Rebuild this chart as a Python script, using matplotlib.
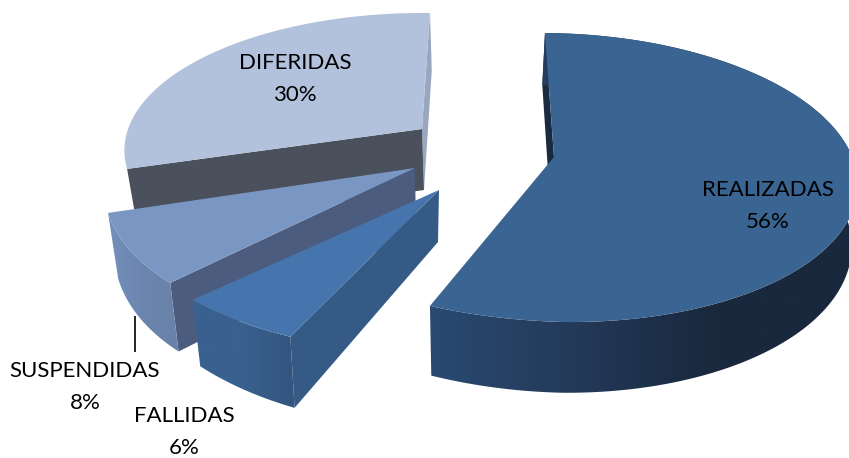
import numpy as np
import matplotlib
matplotlib.use("Agg")
import matplotlib.pyplot as plt
from matplotlib.colors import to_rgb
from matplotlib.patches import Polygon

plt.rcParams['font.family'] = ['Lato', 'DejaVu Sans']

categories = ["REALIZADAS", "FALLIDAS", "SUSPENDIDAS", "DIFERIDAS"]
values = [56, 6, 8, 30]

# layout of each exploded slice, in pixels of the 849x458 picture
# apex x/y, rx, ry, shear s/t, perspective k, wall shift, wall scale
# rx2/t2/sx2 replace rx/t/scale x on the right half where the ellipse is not symmetric
layout = {
    "REALIZADAS": dict(c=(554, 157), rx=318.5, ry=141.6, s=-10.3, t=6.5, k=0.142, rx2=299, t2=2, sx2=0.99,
                       shift=(-3, 60), scale=(0.965, 1.065)),
    "FALLIDAS": dict(c=(439, 190), rx=328, ry=163, s=30, t=13, k=0, shift=(-1, 52), scale=(0.965, 1.13)),
    "SUSPENDIDAS": dict(c=(415, 168), rx=307.5, ry=163, s=47, t=5.7, k=0, shift=(1, 64), scale=(0.97, 1.04)),
    "DIFERIDAS": dict(c=(422, 129), rx=292.7, ry=133.4, s=9.2, t=3.3, k=0.15, shift=(2, 61), scale=(0.97, 1.03)),
}
colors = {
    "REALIZADAS": dict(top="#3a6491", inner="#1a2b40", wall=("#2a4a70", "#233a5a", "#19283c", "#19283c")),
    "FALLIDAS": dict(top="#4675ad", inner="#345a85", wall=("#39618f", "#39608e", "#33557f")),
    "SUSPENDIDAS": dict(top="#7a97c4", inner="#4c5c7e", wall=("#7390bc", "#6b85ae", "#6a82a8")),
    "DIFERIDAS": dict(top="#b3c2dc", inner="#4a505c", wall=None),
}
label_pos = {
    "REALIZADAS": (768, 206),
    "FALLIDAS": (184, 432),
    "SUSPENDIDAS": (85, 387),
    "DIFERIDAS": (295, 79),
}


def project(theta, p):
    u, v = np.sin(theta), np.cos(theta)
    f = 1 / (1 + p["k"] * v)
    rx = np.where(u > 0, p.get("rx2", p["rx"]), p["rx"])
    t = np.where(u > 0, p.get("t2", p["t"]), p["t"])
    x = p["c"][0] + (rx * u + p["s"] * v) * f
    y = p["c"][1] + (-p["ry"] * v + t * u) * f
    return x, y


def lower(x, y, p):
    cx, cy = p["c"]
    sx = np.where(x > cx, p.get("sx2", p["scale"][0]), p["scale"][0])
    return (cx + p["shift"][0] + (x - cx) * sx,
            cy + p["shift"][1] + (y - cy) * p["scale"][1])


def gradient(stops):
    stops = np.array([to_rgb(c) for c in stops])
    pos = np.linspace(0, len(stops) - 1, 256)
    return np.stack([np.interp(pos, np.arange(len(stops)), stops[:, i]) for i in range(3)], axis=1)[None, :, :]


def draw_slice(ax, name, start, end, z):
    p = layout[name]
    col = colors[name]
    th = np.linspace(start, end, 200)
    x, y = project(th, p)
    xb, yb = lower(x, y, p)
    cx, cy = p["c"]
    axb, ayb = lower(cx, cy, p)

    if name == "DIFERIDAS":
        # thin face at the back, then the dark cut face
        ax.fill([cx, x[-1], xb[-1], axb], [cy, y[-1], yb[-1], ayb], color="#9aa6bd", lw=0, zorder=z)
    ax.fill([cx, x[0], xb[0], axb], [cy, y[0], yb[0], ayb], color=col["inner"], lw=0, zorder=z + 0.1)

    # curved outer wall with a left to right shading
    if col["wall"] is not None:
        wall = Polygon(np.c_[np.r_[x, xb[::-1]], np.r_[y, yb[::-1]]], closed=True, fc="none", ec="none",
                       transform=ax.transData)
        ax.add_patch(wall)
        im = ax.imshow(gradient(col["wall"]), extent=(min(x.min(), xb.min()), max(x.max(), xb.max()),
                                                     max(y.max(), yb.max()), min(y.min(), yb.min())),
                       aspect="auto", interpolation="bilinear", zorder=z + 0.2)
        im.set_clip_path(wall)

    ax.fill(np.r_[cx, x], np.r_[cy, y], color=col["top"], lw=0, zorder=z + 0.3)


fig = plt.figure(figsize=(8.49, 4.58), dpi=100)
ax = fig.add_axes([0, 0, 1, 1])

shares = np.array(values) / sum(values) * 2 * np.pi
stops = np.r_[0, np.cumsum(shares)]
angle = {n: (stops[i], stops[i + 1]) for i, n in enumerate(categories)}

for z, name in enumerate(["DIFERIDAS", "REALIZADAS", "SUSPENDIDAS", "FALLIDAS"]):
    draw_slice(ax, name, *angle[name], z + 1)

ax.set_xlim(0, 849)
ax.set_ylim(458, 0)
ax.axis("off")

ax.plot([135, 135], [316, 352], color="black", lw=1.2, solid_capstyle="butt", zorder=6)

for name, val in zip(categories, values):
    lx, ly = label_pos[name]
    ax.text(lx, ly, f"{name}\n{val}%", ha="center", va="center", fontsize=16,
            color="black", linespacing=1.7, zorder=7)

fig.savefig("out.png", dpi=100)
